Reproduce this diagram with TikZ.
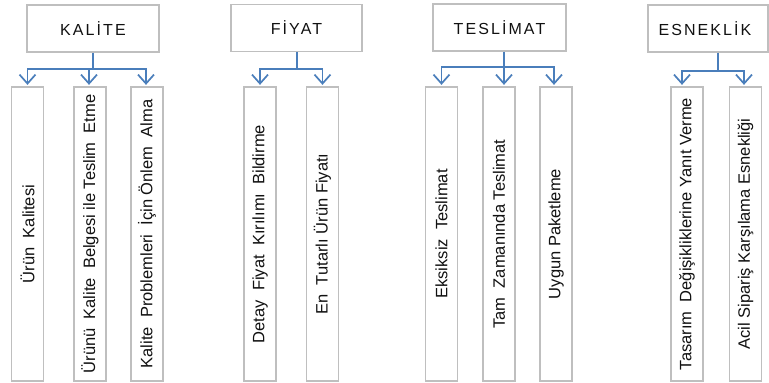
\documentclass[tikz,border=0pt]{standalone}
\usepackage{fontspec}
\setmainfont{Liberation Sans}
\usetikzlibrary{arrows.meta}
\definecolor{boxgray}{HTML}{BFBFBF}
\definecolor{connblue}{HTML}{4A7EBB}
\definecolor{txtc}{HTML}{111111}
\begin{document}
\begin{tikzpicture}[x=1pt,y=-1pt,
  titlebox/.style={draw=boxgray, line width=1.3pt, fill=white, inner sep=0pt,
    minimum height=47pt, text=txtc,
    font=\fontsize{16}{19}\selectfont\addfontfeatures{LetterSpace=13}},
  childbox/.style={draw=boxgray, line width=1.3pt, fill=white, inner sep=0pt,
    minimum width=32pt, minimum height=294pt},
  childtext/.style={rotate=90, inner sep=0pt, text=txtc,
    font=\fontsize{16.5}{19}\selectfont},
  conn/.style={draw=connblue, line width=1.7pt},
  arr/.style={conn, -{Straight Barb[length=9pt,width=16pt]}, shorten >=1.5pt}]
\useasboundingbox (0,0) rectangle (769,383);

% title boxes
\node[titlebox, minimum width=132pt] (t1) at (93,28.5) {KALİTE};
\node[titlebox, minimum width=131pt] (t2) at (296.5,28) {FİYAT};
\node[titlebox, minimum width=133pt] (t3) at (499.5,27.5) {TESLİMAT};
\node[titlebox, minimum width=120pt] (t4) at (708,28.5) {\hspace*{-6pt}ESNEKLİK};

% child boxes
\node[childbox] (c11) at (27.5,234) {};
\node[childbox] (c12) at (90,234) {};
\node[childbox] (c13) at (147,234) {};
\node[childbox] (c21) at (260,234) {};
\node[childbox] (c22) at (322.5,234) {};
\node[childbox] (c31) at (441.5,234) {};
\node[childbox] (c32) at (499,234) {};
\node[childbox] (c33) at (556,234) {};
\node[childbox] (c41) at (687,234) {};
\node[childbox] (c42) at (745.5,234) {};

% child texts
\node[childtext] (x11) at (c11) {Ürün~ Kalitesi};
\node[childtext] (x12) at (c12) {Ürünü~ Kalite~ Belgesi ile Teslim~ Etme};
\node[childtext] (x13) at (c13) {Kalite~ Problemleri~ İçin Önlem~ Alma};
\node[childtext] (x21) at (c21) {Detay~ Fiyat~ Kırılımı~ Bildirme};
\node[childtext] (x22) at (c22) {En~ Tutarlı Ürün Fiyatı};
\node[childtext] (x31) at (c31) {Eksiksiz~ Teslimat};
\node[childtext] (x32) at (c32) {Tam~ Zamanında Teslimat};
\node[childtext] (x33) at (c33) {Uygun Paketleme};
\node[childtext] (x41) at (c41) {Tasarım~ Değişikliklerine Yanıt Verme};
\node[childtext] (x42) at (c42) {Acil Sipariş Karşılama Esnekliği};

% bar points
\coordinate (k1) at (93,69);
\coordinate (k2) at (297,69);
\coordinate (k3) at (504,67);
\coordinate (k4) at (718,71);

% connectors
\draw[conn] (t1.south -| k1) -- (k1);
\draw[arr] (k1) -| (c11.north);
\draw[arr] (k1) -| ([xshift=-1pt]c12.north);
\draw[arr] (k1) -| ([xshift=-1pt]c13.north);

\draw[conn] (t2.south -| k2) -- (k2);
\draw[arr] (k2) -| (c21.north);
\draw[arr] (k2) -| (c22.north);

\draw[arr] (t3.south -| k3) -- (c32.north -| k3);
\draw[arr] (k3) -| (c31.north);
\draw[arr] (k3) -| ([xshift=-2pt]c33.north);

\draw[conn] (t4.south -| k4) -- (k4);
\draw[arr] (k4) -| ([xshift=-5pt]c41.north);
\draw[arr] (k4) -| ([xshift=-1.5pt]c42.north);
\end{tikzpicture}
\end{document}
